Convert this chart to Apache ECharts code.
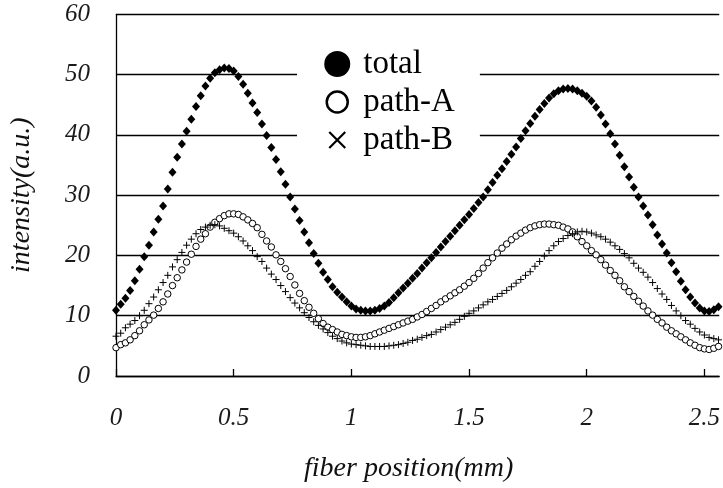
<!DOCTYPE html>
<html>
<head>
<meta charset="utf-8">
<script src="https://cdn.jsdelivr.net/npm/echarts@6/dist/echarts.min.js"></script>
<style>
html,body{margin:0;padding:0;background:#fff;}
#chart{width:723px;height:488px;}
</style>
</head>
<body>
<div id="chart"></div>
<script>
// fiber positions (mm)
var positions = [
  0.00,0.02,0.04,0.06,0.08,0.10,0.12,0.14,0.16,0.18,
  0.20,0.22,0.24,0.26,0.28,0.30,0.32,0.34,0.36,0.38,
  0.40,0.42,0.44,0.46,0.48,0.50,0.52,0.54,0.56,0.58,
  0.60,0.62,0.64,0.66,0.68,0.70,0.72,0.74,0.76,0.78,
  0.80,0.82,0.84,0.86,0.88,0.90,0.92,0.94,0.96,0.98,
  1.00,1.02,1.04,1.06,1.08,1.10,1.12,1.14,1.16,1.18,
  1.20,1.22,1.24,1.26,1.28,1.30,1.32,1.34,1.36,1.38,
  1.40,1.42,1.44,1.46,1.48,1.50,1.52,1.54,1.56,1.58,
  1.60,1.62,1.64,1.66,1.68,1.70,1.72,1.74,1.76,1.78,
  1.80,1.82,1.84,1.86,1.88,1.90,1.92,1.94,1.96,1.98,
  2.00,2.02,2.04,2.06,2.08,2.10,2.12,2.14,2.16,2.18,
  2.20,2.22,2.24,2.26,2.28,2.30,2.32,2.34,2.36,2.38,
  2.40,2.42,2.44,2.46,2.48,2.50,2.52,2.54,2.56
];
var total = [
  10.9,11.9,12.9,14.2,15.8,17.7,19.8,21.7,23.9,26.0,
  28.2,31.0,33.8,36.3,38.5,40.6,42.6,44.7,46.5,48.1,
  49.4,50.3,50.8,51.1,51.0,50.6,49.7,48.4,46.9,45.3,
  43.7,41.8,39.9,37.9,35.9,33.9,31.8,29.7,27.7,25.8,
  23.9,22.1,20.3,18.7,17.2,16.0,14.8,13.9,13.1,12.3,
  11.6,11.1,10.9,10.8,10.8,10.9,11.2,11.6,12.2,13.0,
  13.8,14.6,15.4,16.2,17.0,17.9,18.8,19.6,20.5,21.4,
  22.3,23.2,24.1,25.0,25.9,26.8,27.8,28.8,29.7,30.9,
  32.1,33.3,34.4,35.6,36.8,38.0,39.4,40.7,41.9,43.1,
  44.2,45.2,46.1,46.8,47.3,47.6,47.7,47.6,47.3,46.9,
  46.4,45.6,44.6,43.3,41.8,40.2,38.5,36.6,34.7,33.0,
  31.3,29.7,28.2,26.7,25.1,23.4,21.9,20.4,18.8,17.3,
  15.7,14.3,13.1,12.1,11.3,10.8,10.7,11.0,11.5
];
var pathA = [
  4.7,5.2,5.5,6.0,6.7,7.5,8.5,9.3,10.1,11.2,
  12.3,13.6,15.0,16.3,17.6,18.9,20.2,21.5,22.7,23.6,
  24.7,25.5,26.1,26.6,26.9,26.9,26.8,26.4,25.9,25.3,
  24.6,23.5,22.4,21.4,20.1,19.0,17.8,16.5,15.1,13.7,
  12.5,11.4,10.4,9.5,8.7,8.1,7.7,7.3,6.9,6.7,
  6.5,6.4,6.4,6.5,6.7,7.0,7.3,7.6,7.9,8.2,
  8.5,8.8,9.1,9.4,9.8,10.2,10.7,11.2,11.7,12.3,
  12.8,13.3,13.8,14.3,14.9,15.5,16.2,17.0,17.9,18.8,
  19.6,20.4,21.2,21.9,22.6,23.2,23.7,24.2,24.6,24.9,
  25.1,25.2,25.2,25.1,25.0,24.7,24.4,23.9,23.1,22.3,
  21.6,20.8,20.1,19.3,18.4,17.5,16.7,15.8,14.8,14.0,
  13.2,12.4,11.6,10.8,10.1,9.4,8.8,8.1,7.5,7.0,
  6.5,6.0,5.5,5.1,4.7,4.5,4.4,4.6,4.9
];
var pathB = [
  6.6,7.1,8.0,8.6,9.2,10.0,10.9,12.0,13.1,14.3,
  15.5,16.7,18.1,19.3,20.5,21.7,22.7,23.6,24.3,24.7,
  25.0,25.1,24.9,24.5,24.1,23.7,23.1,22.4,21.6,20.8,
  19.8,19.0,17.9,16.9,16.0,15.0,14.0,13.0,12.1,11.3,
  10.5,9.7,9.0,8.4,7.8,7.2,6.6,6.2,5.8,5.5,
  5.3,5.2,5.1,5.0,4.9,4.9,4.9,4.9,5.0,5.1,
  5.2,5.4,5.6,5.9,6.1,6.4,6.7,6.9,7.3,7.7,
  8.1,8.5,8.9,9.4,9.9,10.4,10.8,11.3,11.8,12.3,
  12.7,13.2,13.7,14.2,14.8,15.4,16.0,16.7,17.3,18.2,
  19.0,19.9,20.8,21.6,22.3,22.8,23.3,23.6,23.9,24.0,
  23.9,23.7,23.4,23.1,22.7,22.2,21.6,21.0,20.3,19.6,
  18.7,17.9,17.2,16.4,15.5,14.5,13.6,12.7,11.7,10.8,
  10.0,9.2,8.6,7.9,7.3,6.8,6.4,6.2,6.0
];
var xTicks = [0, 0.5, 1, 1.5, 2, 2.5];
var seriesNames = ['total', 'path-A', 'path-B'];
var xTitle = 'fiber position(mm)';
var yTitle = 'intensity(a.u.)';

function pairs(vals) {
  return positions.map(function (x, i) { return [x, vals[i]]; });
}

var serif = "'Liberation Serif', 'Times New Roman', serif";
var chart = echarts.init(document.getElementById('chart'));
chart.setOption({
  animation: false,
  backgroundColor: '#fff',
  grid: { left: 115, right: 0, top: 14.3, bottom: 111.5, containLabel: false },
  xAxis: {
    type: 'value', min: 0, max: 2.563, interval: 0.5,
    name: xTitle, nameLocation: 'middle', nameGap: 79,
    nameTextStyle: { fontFamily: serif, fontStyle: 'italic', fontSize: 28, color: '#111', padding: [0, 18, 0, 0] },
    axisLine: { show: true, lineStyle: { color: '#000', width: 1.3 } },
    axisTick: { show: true, inside: true, length: 7, customValues: xTicks, lineStyle: { color: '#000', width: 1.3 } },
    axisLabel: { customValues: xTicks, margin: 30, fontFamily: serif, fontStyle: 'italic', fontSize: 25, color: '#1a1a1a',
      formatter: function (v) { return String(v); } },
    splitLine: { show: false }
  },
  yAxis: {
    type: 'value', min: 0, max: 60, interval: 10,
    name: yTitle, nameLocation: 'middle', nameGap: 80,
    nameTextStyle: { fontFamily: serif, fontStyle: 'italic', fontSize: 28, color: '#111' },
    axisLine: { show: true, lineStyle: { color: '#000', width: 1.3 } },
    axisTick: { show: false },
    axisLabel: { margin: 26, fontFamily: serif, fontStyle: 'italic', fontSize: 25, color: '#1a1a1a' },
    splitLine: { show: true, lineStyle: { color: '#000', width: 1.3 } }
  },
  legend: {
    orient: 'vertical', left: 297, top: 43,
    padding: [2, 25, 2, 26],
    backgroundColor: '#fff',
    itemWidth: 26, itemHeight: 26, itemGap: 0,
    textStyle: { fontFamily: serif, fontSize: 33, color: '#000', lineHeight: 38, padding: [0, 0, 0, 8] },
    data: [
      { name: 'total', icon: 'circle', itemStyle: { color: '#000', borderWidth: 0 } },
      { name: 'path-A', icon: 'path://M0,0M26,26M13,2.5A10.5,10.5,0,1,1,12.99,2.5Z',
        itemStyle: { color: '#fff', borderColor: '#000', borderWidth: 2.5 } },
      { name: 'path-B', icon: 'path://M0,0M26,26M5,5L21,21M21,5L5,21',
        itemStyle: { color: '#000', borderColor: '#000', borderWidth: 2.2 } }
    ]
  },
  series: [
    { name: 'total', type: 'scatter', data: pairs(total), symbol: 'diamond', symbolSize: [8, 9],
      itemStyle: { color: '#000', opacity: 1 } },
    { name: 'path-A', type: 'scatter', data: pairs(pathA), symbol: 'circle', symbolSize: 6.5,
      itemStyle: { color: '#fff', borderColor: '#000', borderWidth: 1, opacity: 1 } },
    { name: 'path-B', type: 'scatter', data: pairs(pathB), symbol: 'path://M0,4L8,4M4,0L4,8', symbolSize: 7,
      itemStyle: { color: '#000', borderColor: '#000', borderWidth: 1, opacity: 1 } }
  ]
});
</script>
</body>
</html>
